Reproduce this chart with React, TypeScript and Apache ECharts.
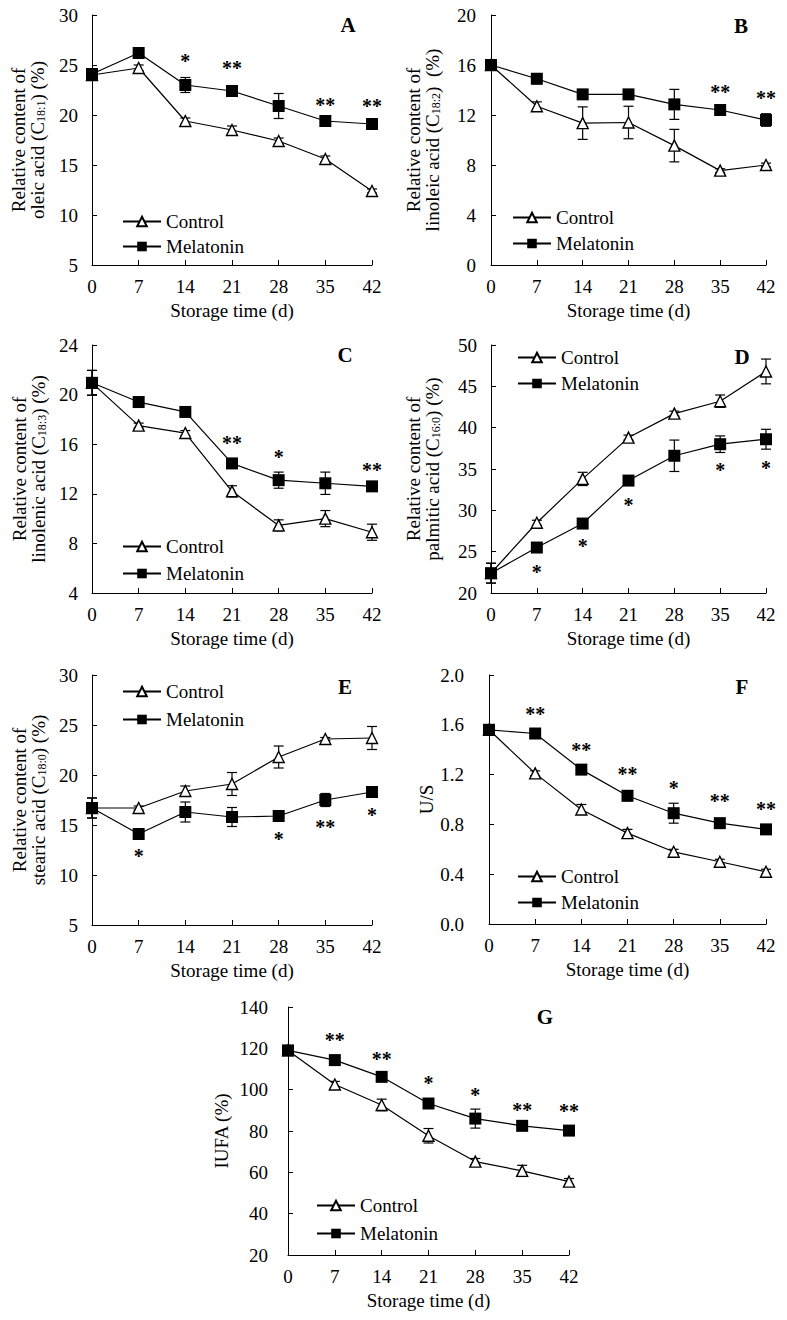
import React, { useEffect, useRef } from 'react';
import * as echarts from 'echarts';

const FONT = '"Liberation Serif", "Times New Roman", serif';

const days = [0, 7, 14, 21, 28, 35, 42];
const seriesNames = ['Control', 'Melatonin'];
const xAxisTitle = 'Storage time (d)';

// A – oleic acid (C18:1)
const oleicControl = [24.0, 24.7, 19.4, 18.5, 17.4, 15.6, 12.4];
const oleicControlErr = [0.2, 0.3, 0.3, 0.4, 0.3, 0.3, 0.2];
const oleicMelatonin = [24.1, 26.2, 23.0, 22.4, 20.9, 19.4, 19.1];
const oleicMelatoninErr = [0.2, 0.2, 0.75, 0.3, 1.25, 0.2, 0.2];
const oleicSig: [number, number, string][] = [[14, 25.7, '*'], [21, 25.0, '**'], [35, 21.3, '**'], [42, 21.2, '**']];

// B – linoleic acid (C18:2)
const linoleicControl = [16.0, 12.7, 11.35, 11.4, 9.55, 7.55, 8.0];
const linoleicControlErr = [0.3, 0.35, 1.3, 1.3, 1.3, 0.15, 0.15];
const linoleicMelatonin = [16.0, 14.9, 13.65, 13.65, 12.85, 12.4, 11.6];
const linoleicMelatoninErr = [0.4, 0.4, 0.2, 0.2, 1.2, 0.2, 0.5];
const linoleicSig: [number, number, string][] = [[35, 14.05, '**'], [42, 13.6, '**']];

// C – linolenic acid (C18:3)
const linolenicControl = [20.95, 17.5, 16.9, 12.2, 9.45, 10.0, 8.9];
const linolenicControlErr = [1.0, 0.2, 0.2, 0.45, 0.45, 0.65, 0.65];
const linolenicMelatonin = [20.95, 19.4, 18.6, 14.45, 13.1, 12.85, 12.6];
const linolenicMelatoninErr = [1.0, 0.2, 0.2, 0.2, 0.65, 0.9, 0.2];
const linolenicSig: [number, number, string][] = [[21, 16.3, '**'], [28, 15.2, '*'], [42, 14.2, '**']];

// D – palmitic acid (C16:0)
const palmiticControl = [22.4, 28.5, 33.8, 38.8, 41.7, 43.2, 46.8];
const palmiticControlErr = [1.2, 0.3, 0.8, 0.3, 0.3, 0.75, 1.5];
const palmiticMelatonin = [22.4, 25.5, 28.4, 33.6, 36.6, 38.0, 38.6];
const palmiticMelatoninErr = [1.2, 0.3, 0.3, 0.3, 1.9, 1.0, 1.2];
const palmiticSig: [number, number, string][] = [[7, 22.9, '*'], [14, 26.0, '*'], [21, 31.0, '*'], [35, 35.2, '*'], [42, 35.5, '*']];

// E – stearic acid (C18:0)
const stearicControl = [16.7, 16.7, 18.4, 19.1, 21.8, 23.6, 23.7];
const stearicControlErr = [1.0, 0.2, 0.5, 1.15, 1.1, 0.15, 1.15];
const stearicMelatonin = [16.7, 14.1, 16.3, 15.8, 15.9, 17.5, 18.3];
const stearicMelatoninErr = [1.0, 0.3, 1.0, 0.95, 0.2, 0.65, 0.4];
const stearicSig: [number, number, string][] = [[7, 12.2, '*'], [28, 13.9, '*'], [35, 15.1, '**'], [42, 16.3, '*']];

// F – U/S
const usControl = [1.56, 1.21, 0.92, 0.73, 0.58, 0.5, 0.42];
const usControlErr = [0.02, 0.02, 0.04, 0.03, 0.02, 0.02, 0.02];
const usMelatonin = [1.56, 1.53, 1.24, 1.03, 0.89, 0.81, 0.76];
const usMelatoninErr = [0.02, 0.02, 0.02, 0.04, 0.08, 0.02, 0.02];
const usSig: [number, number, string][] = [[7, 1.71, '**'], [14, 1.42, '**'], [21, 1.23, '**'], [28, 1.12, '*'], [35, 1.01, '**'], [42, 0.95, '**']];

// G – IUFA
const iufaControl = [119, 102.5, 92.6, 77.7, 65.2, 60.7, 55.5];
const iufaControlErr = [1.5, 1.5, 2.8, 3.5, 1.5, 2.7, 1.5];
const iufaMelatonin = [119, 114.3, 106.2, 93.3, 86.0, 82.5, 80.2];
const iufaMelatoninErr = [1.5, 1.5, 1.5, 1.5, 4.6, 1.5, 1.5];
const iufaSig: [number, number, string][] = [[7, 125.6, '**'], [14, 116.5, '**'], [21, 104.7, '*'], [28, 99.0, '*'], [35, 91.8, '**'], [42, 91.0, '**']];

type Panel = {
  letter: string;
  ctrl: number[]; ctrlErr: number[]; mel: number[]; melErr: number[];
  sig: [number, number, string][];
  yMin: number; yMax: number; yInterval: number; decimals: number;
  yName: string;
  grid: { left: number; top: number; width: number; height: number };
  legend: { left: number; top: number; gap: number };
  letterPos: [number, number];
  nameGap: number; labelMargin: number;
};

const panels: Panel[] = [
  {
    letter: 'A', ctrl: oleicControl, ctrlErr: oleicControlErr, mel: oleicMelatonin, melErr: oleicMelatoninErr, sig: oleicSig,
    yMin: 5, yMax: 30, yInterval: 5, decimals: 0,
    yName: '{t|Relative content of}\n{t|oleic acid (C}{s|18:1}{t|) (%)}',
    grid: { left: 92, top: 15, width: 280, height: 250 },
    legend: { left: 122, top: 212, gap: 6 }, letterPos: [348, 25], nameGap: 45, labelMargin: 14,
  },
  {
    letter: 'B', ctrl: linoleicControl, ctrlErr: linoleicControlErr, mel: linoleicMelatonin, melErr: linoleicMelatoninErr, sig: linoleicSig,
    yMin: 0, yMax: 20, yInterval: 4, decimals: 0,
    yName: '{t|Relative content of}\n{t|linoleic acid (C}{s|18:2}{t|)  (%)}',
    grid: { left: 491, top: 15, width: 275, height: 250 },
    legend: { left: 512, top: 208, gap: 7 }, letterPos: [741, 26], nameGap: 49, labelMargin: 15,
  },
  {
    letter: 'C', ctrl: linolenicControl, ctrlErr: linolenicControlErr, mel: linolenicMelatonin, melErr: linolenicMelatoninErr, sig: linolenicSig,
    yMin: 4, yMax: 24, yInterval: 4, decimals: 0,
    yName: '{t|Relative content of}\n{t|linolenic acid (C}{s|18:3}{t|) (%)}',
    grid: { left: 92, top: 345, width: 280, height: 248 },
    legend: { left: 122, top: 537, gap: 8 }, letterPos: [345, 355], nameGap: 44, labelMargin: 14,
  },
  {
    letter: 'D', ctrl: palmiticControl, ctrlErr: palmiticControlErr, mel: palmiticMelatonin, melErr: palmiticMelatoninErr, sig: palmiticSig,
    yMin: 20, yMax: 50, yInterval: 5, decimals: 0,
    yName: '{t|Relative content of}\n{t|palmitic acid (C}{s|16:0}{t|) (%)}',
    grid: { left: 491, top: 345, width: 275, height: 248 },
    legend: { left: 517, top: 348, gap: 7 }, letterPos: [742, 357], nameGap: 49, labelMargin: 14,
  },
  {
    letter: 'E', ctrl: stearicControl, ctrlErr: stearicControlErr, mel: stearicMelatonin, melErr: stearicMelatoninErr, sig: stearicSig,
    yMin: 5, yMax: 30, yInterval: 5, decimals: 0,
    yName: '{t|Relative content of}\n{t|stearic acid (C}{s|18:0}{t|) (%)}',
    grid: { left: 92, top: 675, width: 280, height: 250 },
    legend: { left: 122, top: 682, gap: 9 }, letterPos: [345, 687], nameGap: 44, labelMargin: 14,
  },
  {
    letter: 'F', ctrl: usControl, ctrlErr: usControlErr, mel: usMelatonin, melErr: usMelatoninErr, sig: usSig,
    yMin: 0, yMax: 2, yInterval: 0.4, decimals: 1,
    yName: '{t|U/S}',
    grid: { left: 489, top: 675, width: 277, height: 249 },
    legend: { left: 517, top: 867, gap: 7 }, letterPos: [742, 687], nameGap: 53, labelMargin: 25,
  },
  {
    letter: 'G', ctrl: iufaControl, ctrlErr: iufaControlErr, mel: iufaMelatonin, melErr: iufaMelatoninErr, sig: iufaSig,
    yMin: 20, yMax: 140, yInterval: 20, decimals: 0,
    yName: '{t|IUFA (%)}',
    grid: { left: 288, top: 1007, width: 281, height: 248 },
    legend: { left: 316, top: 1196, gap: 9 }, letterPos: [545, 1017], nameGap: 57, labelMargin: 20,
  },
];

function errorBarSeries(idx: number, vals: number[], errs: number[]) {
  return {
    type: 'custom',
    xAxisIndex: idx,
    yAxisIndex: idx,
    z: 1,
    silent: true,
    clip: false,
    encode: { x: 0, y: [1, 2] },
    data: days.map((d, k) => [d, vals[k] - errs[k], vals[k] + errs[k]]),
    renderItem: (params: any, api: any) => {
      const x = api.value(0);
      const p1 = api.coord([x, api.value(1)]);
      const p2 = api.coord([x, api.value(2)]);
      const w = 5;
      const st = { stroke: '#000', lineWidth: 1.2 };
      return {
        type: 'group',
        children: [
          { type: 'line', shape: { x1: p1[0], y1: p1[1], x2: p2[0], y2: p2[1] }, style: st },
          { type: 'line', shape: { x1: p1[0] - w, y1: p1[1], x2: p1[0] + w, y2: p1[1] }, style: st },
          { type: 'line', shape: { x1: p2[0] - w, y1: p2[1], x2: p2[0] + w, y2: p2[1] }, style: st },
        ],
      };
    },
  };
}

function sigSeries(idx: number, sig: [number, number, string][]) {
  return {
    type: 'custom',
    xAxisIndex: idx,
    yAxisIndex: idx,
    z: 5,
    silent: true,
    clip: false,
    encode: { x: 0, y: 1 },
    data: sig.map((s) => [s[0], s[1]]),
    renderItem: (params: any, api: any) => {
      const p = api.coord([api.value(0), api.value(1)]);
      const txt = sig[params.dataIndex][2];
      return {
        type: 'text',
        x: p[0],
        y: p[1] + 3,
        style: {
          text: txt,
          font: `bold 20px ${FONT}`,
          fill: '#000',
          align: 'center',
          verticalAlign: 'middle',
          textAlign: 'center',
          textVerticalAlign: 'middle',
        },
      };
    },
  };
}

function buildOption() {
  const axisStyle = { color: '#000', width: 1 };
  const grid = panels.map((p) => ({ ...p.grid, containLabel: false, outerBoundsMode: 'none' }));
  const xAxis = panels.map((p, i) => ({
    type: 'value',
    gridIndex: i,
    min: 0,
    max: 42,
    interval: 7,
    axisLine: { show: true, onZero: false, lineStyle: axisStyle },
    axisTick: { show: true, inside: true, length: 5, lineStyle: axisStyle },
    splitLine: { show: false },
    axisLabel: { margin: 12, fontFamily: FONT, fontSize: 19, color: '#000' },
    name: xAxisTitle,
    nameLocation: 'middle',
    nameGap: 36,
    nameMoveOverlap: false,
    nameTextStyle: { fontFamily: FONT, fontSize: 19, color: '#000' },
  }));
  const yAxis = panels.map((p, i) => ({
    type: 'value',
    gridIndex: i,
    min: p.yMin,
    max: p.yMax,
    interval: p.yInterval,
    axisLine: { show: true, onZero: false, lineStyle: axisStyle },
    axisTick: { show: true, inside: true, length: 5, lineStyle: axisStyle },
    splitLine: { show: false },
    axisLabel: {
      margin: p.labelMargin,
      fontFamily: FONT,
      fontSize: 19,
      color: '#000',
      formatter: (v: number) => v.toFixed(p.decimals),
    },
    name: p.yName,
    nameLocation: 'middle',
    nameRotate: 90,
    nameGap: p.nameGap,
    nameMoveOverlap: false,
    nameTextStyle: {
      fontFamily: FONT,
      fontSize: 19,
      lineHeight: 19,
      color: '#000',
      rich: {
        t: { fontFamily: FONT, fontSize: 19, lineHeight: 19, color: '#000' },
        s: { fontFamily: FONT, fontSize: 12, lineHeight: 10, verticalAlign: 'bottom', color: '#000' },
      },
    },
  }));
  const legend = panels.map((p) => ({
    orient: 'vertical',
    left: p.legend.left,
    top: p.legend.top,
    padding: 0,
    itemGap: p.legend.gap,
    itemWidth: 38,
    itemHeight: 12,
    selectedMode: false,
    data: seriesNames,
    textStyle: { fontFamily: FONT, fontSize: 19, lineHeight: 19, color: '#000' },
  }));
  const series: any[] = [];
  panels.forEach((p, i) => {
    series.push(errorBarSeries(i, p.ctrl, p.ctrlErr));
    series.push(errorBarSeries(i, p.mel, p.melErr));
    series.push({
      type: 'line',
      name: seriesNames[0],
      xAxisIndex: i,
      yAxisIndex: i,
      data: days.map((d, k) => [d, p.ctrl[k]]),
      symbol: 'triangle',
      symbolSize: 11,
      showAllSymbol: true,
      lineStyle: { color: '#000', width: 1.2 },
      itemStyle: { color: '#fff', borderColor: '#000', borderWidth: 1.4 },
      emphasis: { disabled: true },
      silent: true,
      z: 3,
    });
    series.push({
      type: 'line',
      name: seriesNames[1],
      xAxisIndex: i,
      yAxisIndex: i,
      data: days.map((d, k) => [d, p.mel[k]]),
      symbol: 'rect',
      symbolSize: 12,
      showAllSymbol: true,
      lineStyle: { color: '#000', width: 1.2 },
      itemStyle: { color: '#000', borderColor: '#000', borderWidth: 0 },
      emphasis: { disabled: true },
      silent: true,
      z: 4,
    });
    series.push(sigSeries(i, p.sig));
  });
  const graphic = panels.map((p) => ({
    type: 'text',
    x: p.letterPos[0],
    y: p.letterPos[1],
    silent: true,
    style: {
      text: p.letter,
      font: `bold 21px ${FONT}`,
      fill: '#000',
      align: 'center',
      verticalAlign: 'middle',
      textAlign: 'center',
      textVerticalAlign: 'middle',
    },
  }));
  return {
    animation: false,
    backgroundColor: '#fff',
    textStyle: { fontFamily: FONT },
    grid,
    xAxis,
    yAxis,
    legend,
    series,
    graphic,
  };
}

export default function App() {
  const ref = useRef<HTMLDivElement>(null);
  useEffect(() => {
    if (!ref.current) return;
    const chart = echarts.init(ref.current, null, { renderer: 'svg' });
    chart.setOption(buildOption() as any);
    return () => chart.dispose();
  }, []);
  return (
    <div
      ref={ref}
      style={{ position: 'absolute', left: 0, top: 0, width: 787, height: 1320, background: '#fff' }}
    />
  );
}
